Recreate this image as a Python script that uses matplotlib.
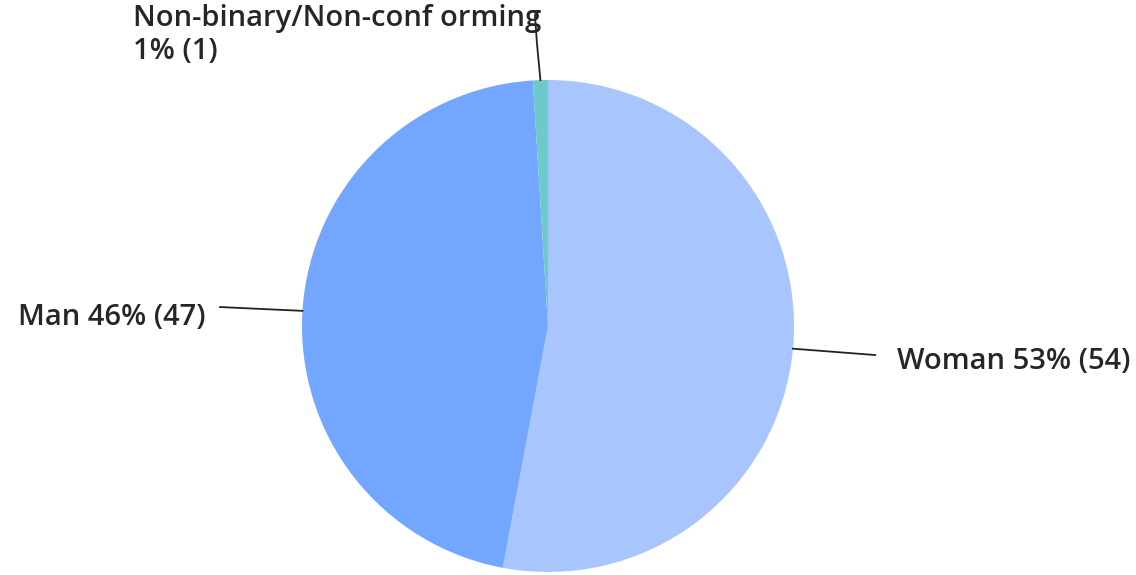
import matplotlib
matplotlib.use("Agg")
import matplotlib.pyplot as plt
import numpy as np

labels = ["Woman", "Man", "Non-binary/Non-conf orming"]
counts = [54, 47, 1]
percents = ["53%", "46%", "1%"]
colors = ["#a8c6fd", "#73a6ff", "#6ccaca"]

W, H = 1136, 575
cx, cy, r = 548, 326, 246  # pie centre and radius in pixels

fig = plt.figure(figsize=(W / 100, H / 100), dpi=100)
ax = fig.add_axes([0, 0, 1, 1])
wedges, _ = ax.pie(counts, colors=colors, startangle=90, counterclock=False,
                   wedgeprops=dict(linewidth=0))
ax.set_xlim(-cx / r, (W - cx) / r)
ax.set_ylim(-(H - cy) / r, cy / r)
ax.set_aspect("auto")
ax.axis("off")

font = dict(family=["Open Sans", "DejaVu Sans"], fontsize=21, weight=600, color="#262626")

def anchor(w):
    a = np.deg2rad((w.theta1 + w.theta2) / 2)
    return np.cos(a), np.sin(a)

# Woman
x0, y0 = anchor(wedges[0])
ax.plot([x0, 1.33], [y0, -0.118], color="#222222", lw=1.3)
ax.text(1.42, -0.146, f"{labels[0]} {percents[0]} ({counts[0]})", ha="left", va="center", **font)

# Man
x0, y0 = anchor(wedges[1])
ax.plot([x0, -1.333], [y0, 0.077], color="#222222", lw=1.3)
ax.text(-1.394, 0.033, f"{labels[1]} {percents[1]} ({counts[1]})", ha="right", va="center", **font)

# Non-binary
x0, y0 = anchor(wedges[2])
ax.plot([x0, -0.045, -0.053], [y0, 1.15, 1.264], color="#222222", lw=1.3)
ax.text(-1.687, 1.31, f"{labels[2]}\n{percents[2]} ({counts[2]})", ha="left", va="top",
        linespacing=1.2, **font)

fig.savefig("out.png", dpi=100)
